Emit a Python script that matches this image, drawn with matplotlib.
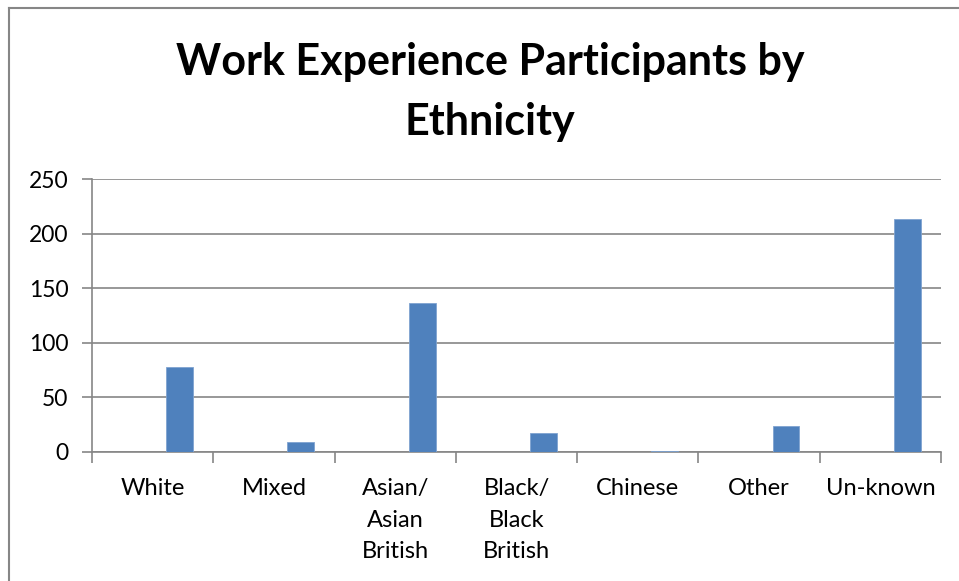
import matplotlib.pyplot as plt
import numpy as np
from matplotlib.lines import Line2D

plt.rcParams['font.family'] = ['Lato', 'DejaVu Sans']

categories = ['White', 'Mixed', 'Asian/\nAsian\nBritish', 'Black/\nBlack\nBritish', 'Chinese', 'Other', 'Un-known']
participants = [78, 9, 136, 17, 1, 24, 213]
y_ticks = [0, 50, 100, 150, 200, 250]

fig = plt.figure(figsize=(9.59, 5.81), dpi=100)
ax = fig.add_axes([92 / 959, 1 - 452 / 581, (941 - 92) / 959, (452 - 179) / 581])

# bar sits in the right third of each category (Excel style, gap width 150%)
x = np.arange(len(categories))
ax.bar(x + 0.722, participants, width=0.222, color='#4F81BD', edgecolor='#7FA3D0', linewidth=0.6, zorder=3)

ax.set_xlim(0, len(categories))
ax.set_ylim(0, 250)
ax.set_yticks(y_ticks)
ax.set_xticks(np.arange(len(categories) + 1))
ax.set_xticklabels([])
ax.set_xticks(x + 0.5, minor=True)
ax.set_xticklabels(categories, minor=True, fontsize=17, linespacing=1.6)
ax.tick_params(axis='x', which='minor', length=0, pad=19)
ax.tick_params(axis='x', which='major', length=8, color='#868686', width=1.2)
ax.tick_params(axis='y', length=7, color='#868686', width=1.2, labelsize=16.5, pad=10)

ax.yaxis.grid(True, color='#868686', linewidth=1.2, zorder=0)
for s in ['top', 'right']:
    ax.spines[s].set_visible(False)
for s in ['left', 'bottom']:
    ax.spines[s].set_color('#868686')
    ax.spines[s].set_linewidth(1.2)

fig.text(490 / 959, 1 - 92 / 581, 'Work Experience Participants by\nEthnicity',
         ha='center', va='center', fontsize=31, fontweight='bold', linespacing=1.6)

# chart area border (only left and top visible)
fig.add_artist(Line2D([9 / 959, 9 / 959], [0, 1 - 8 / 581], transform=fig.transFigure, color='#868686', linewidth=1.5))
fig.add_artist(Line2D([9 / 959, 1], [1 - 8 / 581, 1 - 8 / 581], transform=fig.transFigure, color='#868686', linewidth=1.5))

fig.savefig('out.png', dpi=100)
